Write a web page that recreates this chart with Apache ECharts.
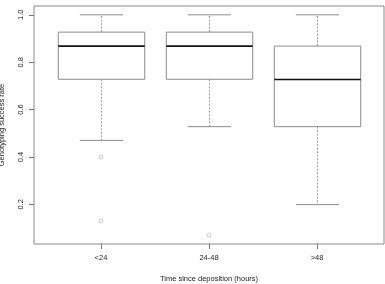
<!DOCTYPE html>
<html><head><meta charset="utf-8">
<script src="https://cdn.jsdelivr.net/npm/echarts@6/dist/echarts.min.js"></script>
<style>html,body{margin:0;padding:0;background:#fff}#c{width:385px;height:284px}</style>
</head><body><div id="c"></div>
<script>
const categories = ['<24', '24-48', '>48'];
const lowerWhisker = [0.47, 0.528, 0.199];
const q1 = [0.728, 0.728, 0.528];
const median = [0.868, 0.868, 0.727];
const q3 = [0.927, 0.927, 0.868];
const upperWhisker = [1.0, 1.0, 1.0];
const outlierGroup = [0, 0, 1];
const outlierValue = [0.40, 0.13, 0.07];
const yTicks = [0.2, 0.4, 0.6, 0.8, 1.0];

const boxData = categories.map((c, i) => [i + 1, lowerWhisker[i], q1[i], median[i], q3[i], upperWhisker[i]]);
const outData = outlierGroup.map((g, i) => [g + 1, outlierValue[i]]);

const FONT = 'Liberation Sans';
const chart = echarts.init(document.getElementById('c'), null, {renderer: 'canvas'});
chart.setOption({
  animation: false,
  grid: {left: 34, right: 1, top: 6, bottom: 40, outerBoundsMode: 'none', containLabel: false,
    show: true, borderColor: '#8a8a8a', borderWidth: 1, backgroundColor: 'transparent'},
  xAxis: {
    type: 'value', min: 0.38, max: 3.62,
    name: 'Time since deposition (hours)', nameLocation: 'middle', nameGap: 31,
    nameTextStyle: {fontFamily: FONT, fontSize: 7.5, color: '#222'},
    axisLine: {show: false},
    splitLine: {show: false},
    axisTick: {show: true, length: 5, lineStyle: {color: '#777'}, customValues: [1, 2, 3]},
    axisLabel: {fontFamily: FONT, fontSize: 7.5, color: '#222', margin: 10, customValues: [1, 2, 3],
      formatter: v => categories[Math.round(v) - 1] || ''}
  },
  yAxis: {
    type: 'value', min: 0.0328, max: 1.0372,
    name: 'Genotyping success rate', nameLocation: 'middle', nameGap: 28,
    nameTextStyle: {fontFamily: FONT, fontSize: 7.5, color: '#222'},
    axisLine: {show: false},
    splitLine: {show: false},
    axisTick: {show: true, length: 5, lineStyle: {color: '#777'}, customValues: yTicks},
    axisLabel: {fontFamily: FONT, fontSize: 7.5, color: '#222', margin: 9, rotate: 90, customValues: yTicks,
      formatter: v => v.toFixed(1)}
  },
  series: [{
    type: 'custom',
    data: boxData,
    encode: {x: 0, y: [1, 2, 3, 4, 5]},
    renderItem: function (params, api) {
      const x = api.value(0);
      const hw = api.size([0.4, 0])[0];
      const sw = api.size([0.2, 0])[0];
      const pLow = api.coord([x, api.value(1)]);
      const pQ1 = api.coord([x, api.value(2)]);
      const pMed = api.coord([x, api.value(3)]);
      const pQ3 = api.coord([x, api.value(4)]);
      const pHigh = api.coord([x, api.value(5)]);
      const cx = Math.round(pLow[0]) + 0.5;
      const gray = '#8c8c8c';
      const dash = {stroke: '#a0a0a0', lineWidth: 1, lineDash: [2, 1.5]};
      return {
        type: 'group',
        children: [
          {type: 'line', shape: {x1: cx, y1: pQ3[1], x2: cx, y2: pHigh[1]}, style: dash},
          {type: 'line', shape: {x1: cx, y1: pQ1[1], x2: cx, y2: pLow[1]}, style: dash},
          {type: 'line', shape: {x1: cx - sw, y1: pHigh[1], x2: cx + sw, y2: pHigh[1]}, style: {stroke: gray, lineWidth: 1}},
          {type: 'line', shape: {x1: cx - sw, y1: pLow[1], x2: cx + sw, y2: pLow[1]}, style: {stroke: gray, lineWidth: 1}},
          {type: 'rect', shape: {x: cx - hw, y: pQ3[1], width: 2 * hw, height: pQ1[1] - pQ3[1]}, style: {fill: '#fff', stroke: gray, lineWidth: 1}},
          {type: 'line', shape: {x1: cx - hw, y1: pMed[1], x2: cx + hw, y2: pMed[1]}, style: {stroke: '#111', lineWidth: 1.6}}
        ]
      };
    }
  }, {
    type: 'scatter',
    data: outData,
    symbol: 'circle',
    symbolSize: 4,
    z: 5,
    itemStyle: {color: '#fff', borderColor: '#aaa', borderWidth: 0.8}
  }]
});
</script></body></html>
